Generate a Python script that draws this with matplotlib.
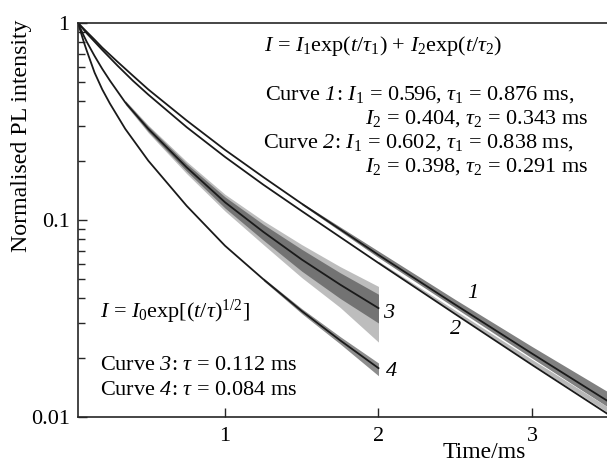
import matplotlib.pyplot as plt
from matplotlib.ticker import FixedLocator, NullFormatter

plt.rcParams["font.family"] = ["Liberation Serif", "DejaVu Serif"]
plt.rcParams["mathtext.fontset"] = "custom"
plt.rcParams["mathtext.rm"] = "Liberation Serif"
plt.rcParams["mathtext.it"] = "Liberation Serif:italic"
plt.rcParams["mathtext.bf"] = "Liberation Serif:bold"
# italic digits for curve numbers ("it" only slants letters)
plt.rcParams["mathtext.sf"] = "Liberation Serif:italic"

# fitted curves 1 and 2 (biexponential)
t12 = [0.042, 0.07, 0.1, 0.15, 0.2, 0.3, 0.4, 0.5, 0.75, 1.0, 1.25, 1.5,
       2.0, 2.5, 3.0, 3.49]
curve1 = [1.0, 0.95, 0.90, 0.823, 0.75, 0.635, 0.54, 0.46, 0.32, 0.227,
          0.165, 0.121, 0.0665, 0.0372, 0.0210, 0.0121]
curve2 = [1.0, 0.944, 0.885, 0.804, 0.730, 0.607, 0.509, 0.433, 0.296,
          0.209, 0.151, 0.111, 0.0605, 0.0333, 0.0184, 0.0104]

# fitted curves 3 and 4 (stretched exponential)
t34 = [0.042, 0.06, 0.08, 0.1, 0.15, 0.2, 0.25, 0.35, 0.5, 0.75, 1.0,
       1.25, 1.5, 1.75, 2.0]
curve3 = [1.0, 0.93, 0.86, 0.80, 0.68, 0.585, 0.51, 0.395, 0.29, 0.185,
          0.123, 0.087, 0.063, 0.047, 0.0357]
curve4 = [1.0, 0.90, 0.80, 0.72, 0.56, 0.46, 0.39, 0.29, 0.20, 0.118,
          0.074, 0.050, 0.0345, 0.0245, 0.0177]

# spread of the measured (noisy) data around the fits
t3n = [0.35, 0.5, 0.75, 1.0, 1.25, 1.5, 1.75, 2.0]
d3_hi = [0.402, 0.299, 0.193, 0.131, 0.095, 0.071, 0.054, 0.042]
d3_lo = [0.388, 0.281, 0.177, 0.115, 0.079, 0.055, 0.040, 0.030]
d3_hi2 = [0.405, 0.303, 0.198, 0.135, 0.099, 0.075, 0.058, 0.046]
d3_lo2 = [0.385, 0.277, 0.172, 0.111, 0.075, 0.051, 0.036, 0.024]

t1n = [1.5, 2.0, 2.5, 3.0, 3.49]
d1_hi = [0.1225, 0.0695, 0.0395, 0.0228, 0.0135]
d1_lo = [0.1195, 0.0645, 0.0358, 0.0199, 0.0113]

t2n = [2.0, 2.5, 3.0, 3.49]
d2_hi = [0.0618, 0.0348, 0.0196, 0.0113]
d2_lo = [0.0606, 0.0336, 0.0186, 0.0106]

t4n = [1.25, 1.5, 1.75, 2.0]
d4_hi = [0.0508, 0.0355, 0.0256, 0.0188]
d4_lo = [0.0492, 0.0335, 0.0235, 0.0162]

W, H = 607, 463
fig = plt.figure(figsize=(W / 100, H / 100), dpi=100)
ax = fig.add_axes([78 / W, 1 - 417 / H, 1 - 78 / W, (417 - 23) / H])


def fxy(x, y):
    return x / W, 1 - y / H


# noisy data
ax.fill_between(t3n, d3_lo2, d3_hi2, color="0.74", lw=0, zorder=1)
ax.fill_between(t3n, d3_lo, d3_hi, color="0.45", lw=0, zorder=1)
ax.fill_between(t1n, d1_lo, d1_hi, color="0.5", lw=0, zorder=1)
ax.fill_between(t2n, d2_lo, d2_hi, color="0.72", lw=0, zorder=1)
ax.fill_between(t4n, d4_lo, d4_hi, color="0.55", lw=0, zorder=1)

# fits
for t, c in [(t12, curve1), (t12, curve2), (t34, curve3), (t34, curve4)]:
    ax.plot(t, c, color="0.1", lw=1.3, zorder=2)

ax.set_yscale("log")
ax.set_xlim(0.042, 3.489)
ax.set_ylim(0.01, 1)

ax.xaxis.set_major_locator(FixedLocator([1, 2, 3]))
ax.set_xticklabels(["1", "2", "3"])
ax.yaxis.set_major_locator(FixedLocator([0.01, 0.1, 1]))
ax.set_yticklabels(["0.01", "0.1", "1"])
ax.yaxis.set_minor_locator(FixedLocator(
    [k * 0.01 for k in range(2, 10)] + [k * 0.1 for k in range(2, 10)]))
ax.yaxis.set_minor_formatter(NullFormatter())
ax.tick_params(axis="both", which="major", direction="in", length=6.5,
               width=1.0, labelsize=16, color="0.15")
ax.tick_params(axis="y", which="minor", direction="in", length=5,
               width=1.0, color="0.15")
ax.tick_params(axis="x", pad=7)
ax.tick_params(axis="y", pad=6)
ax.spines["right"].set_visible(False)
for s in ["left", "bottom", "top"]:
    ax.spines[s].set_linewidth(1.2)
    ax.spines[s].set_color("0.15")

fs = 16
fig.text(*fxy(264, 51),
         r"$I$ = $I_1$exp($t$/$\tau_1$) + $I_2$exp($t$/$\tau_2$)",
         fontsize=fs, va="baseline")
fig.text(*fxy(265, 100), r"Curve $\mathsf{1}$: $I_1$ = 0.596, $\tau_1$ = 0.876 ms,",
         fontsize=fs, va="baseline")
fig.text(*fxy(588, 124), r"$I_2$ = 0.404, $\tau_2$ = 0.343 ms",
         fontsize=fs, va="baseline", ha="right")
fig.text(*fxy(263, 148), r"Curve $\mathsf{2}$: $I_1$ = 0.602, $\tau_1$ = 0.838 ms,",
         fontsize=fs, va="baseline")
fig.text(*fxy(588, 172), r"$I_2$ = 0.398, $\tau_2$ = 0.291 ms",
         fontsize=fs, va="baseline", ha="right")

fig.text(*fxy(100, 318), r"$I$ = $I_0$exp[$(t/\tau)^{1/2}$]",
         fontsize=fs, va="baseline")
fig.text(*fxy(100, 370), r"Curve $\mathsf{3}$: $\tau$ = 0.112 ms",
         fontsize=fs, va="baseline")
fig.text(*fxy(100, 395), r"Curve $\mathsf{4}$: $\tau$ = 0.084 ms",
         fontsize=fs, va="baseline")

for lab, x, y in [("1", 473, 293), ("2", 456, 330), ("3", 389, 313), ("4", 391, 372)]:
    fig.text(*fxy(x, y), lab, fontsize=fs, style="italic", ha="center", va="center")

fig.text(*fxy(22, 20), "Normalised PL intensity", fontsize=17.2, rotation=90,
         ha="center", va="top")
fig.text(*fxy(484, 452), "Time/ms", fontsize=17, ha="center", va="center")

fig.savefig("out.png", dpi=100)
